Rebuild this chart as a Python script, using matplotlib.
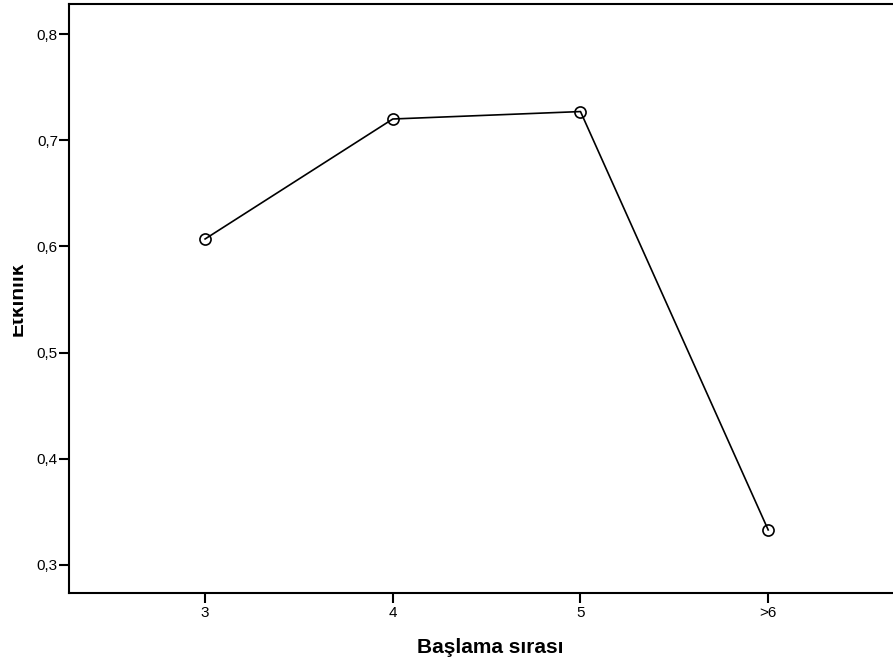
import matplotlib.pyplot as plt
from matplotlib.ticker import FuncFormatter
from matplotlib.transforms import Bbox, TransformedBbox

plt.rcParams['font.family'] = ['Liberation Sans', 'DejaVu Sans']

# data
categories = ['3', '4', '5', '>6']
etkinlik = [0.607, 0.720, 0.727, 0.333]
y_ticks = [0.3, 0.4, 0.5, 0.6, 0.7, 0.8]

fig = plt.figure(figsize=(8.93, 6.61), dpi=100)
ax = fig.add_axes([69 / 893, 68 / 661, 1.02 - 69 / 893, 589 / 661])

x = list(range(len(categories)))
ax.plot(x, etkinlik, color='black', lw=1.2, marker='o', markersize=8,
        markerfacecolor='none', markeredgecolor='black', markeredgewidth=1.2)

ax.set_xlim(-0.725, 3.76)
ax.set_ylim(0.2736, 0.8283)
ax.set_xticks(x)
ax.set_xticklabels(categories)
ax.set_yticks(y_ticks)
ax.yaxis.set_major_formatter(FuncFormatter(lambda v, p: f'{v:.1f}'.replace('.', ',')))

for s in ax.spines.values():
    s.set_linewidth(1.5)
ax.tick_params(direction='out', length=7, width=1.5, labelsize=11, pad=1)
ax.tick_params(axis='x', pad=2.5)

ax.set_xlabel('Başlama sırası', fontsize=15, fontweight='bold')
ax.xaxis.set_label_coords(0.5, -0.077)
ax.set_ylabel('Etkinlik', fontsize=15, fontweight='bold')
ax.yaxis.set_label_coords(-0.0505, 0.5)

# the label is cut at the left edge in the original
lab = ax.yaxis.label
lab.set_clip_on(True)
lab.set_clip_box(TransformedBbox(Bbox([[13 / 893, 0], [1, 1]]), fig.transFigure))

fig.savefig('out.png', dpi=100)
